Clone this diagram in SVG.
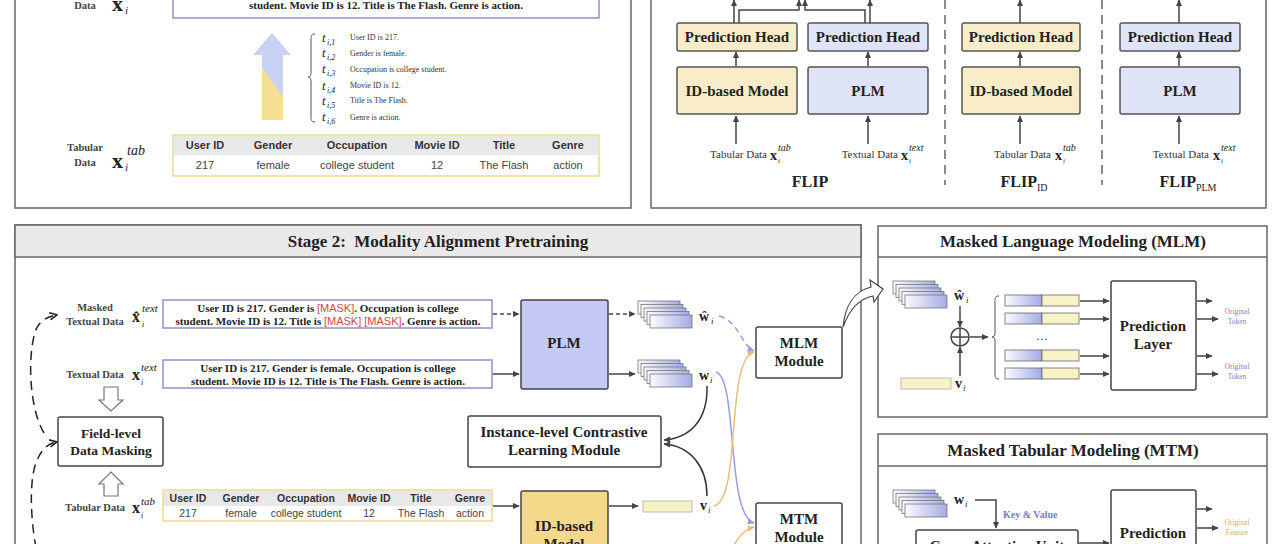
<svg xmlns="http://www.w3.org/2000/svg" width="1280" height="544" viewBox="0 0 1280 544">
<style>
.sb{font-family:"Liberation Serif","Times New Roman",serif;font-weight:bold;fill:#222}
.sr{font-family:"Liberation Serif","Times New Roman",serif;fill:#333}
.lb{font-family:"Liberation Serif","Times New Roman",serif;font-weight:bold;fill:#444;font-size:10.5px}
.ss{font-family:"Liberation Sans",Arial,sans-serif;fill:#444}
.ssb{font-family:"Liberation Sans",Arial,sans-serif;font-weight:bold;fill:#333}
.it{font-family:"Liberation Serif","Times New Roman",serif;font-style:italic;fill:#222}
.panel{fill:#fff;stroke:#666;stroke-width:1.5}
.box{fill:#fff;stroke:#444;stroke-width:1.5}
.tbox{fill:#fff;stroke:#9090c8;stroke-width:1.5}
.yel{fill:#f8edc8;stroke:#555;stroke-width:1.5}
.blu{fill:#dfe3f8;stroke:#555;stroke-width:1.5}
.ln{fill:none;stroke:#444;stroke-width:1.5}
.mid{text-anchor:middle}
.end{text-anchor:end}
.mask{font-family:"Liberation Sans",Arial,sans-serif;font-weight:normal;fill:#d04848}
</style>
<defs>
<linearGradient id="gb" x1="0" x2="1" y1="0" y2="0"><stop offset="0" stop-color="#fbfbff"/><stop offset="1" stop-color="#a3abe4"/></linearGradient>
<marker id="a" viewBox="0 0 10 10" refX="9" refY="5" markerWidth="7" markerHeight="7" markerUnits="userSpaceOnUse" orient="auto"><path d="M0,0.5 L10,5 L0,9.5 z" fill="#444"/></marker>
<marker id="ap" viewBox="0 0 10 10" refX="9" refY="5" markerWidth="7" markerHeight="7" markerUnits="userSpaceOnUse" orient="auto"><path d="M0,0.5 L10,5 L0,9.5 z" fill="#9a9ae0"/></marker>
<marker id="ao" viewBox="0 0 10 10" refX="9" refY="5" markerWidth="7" markerHeight="7" markerUnits="userSpaceOnUse" orient="auto"><path d="M0,0.5 L10,5 L0,9.5 z" fill="#eebb7c"/></marker>
<marker id="ak" viewBox="0 0 10 10" refX="8" refY="5" markerWidth="9" markerHeight="9" markerUnits="userSpaceOnUse" orient="auto"><path d="M1,1 L9,5 L1,9" fill="none" stroke="#222" stroke-width="1.8"/></marker>
<g id="stack">
<rect x="0" y="0" width="42" height="13" fill="url(#gb)" stroke="#777" stroke-width="0.8"/>
<rect x="3" y="3.5" width="42" height="13" fill="url(#gb)" stroke="#777" stroke-width="0.8"/>
<rect x="6" y="7" width="42" height="13" fill="url(#gb)" stroke="#777" stroke-width="0.8"/>
<rect x="9" y="10.5" width="42" height="13" fill="url(#gb)" stroke="#777" stroke-width="0.8"/>
<rect x="12" y="14" width="42" height="13" fill="url(#gb)" stroke="#777" stroke-width="0.8"/>
</g>
</defs>
<rect x="0" y="0" width="1280" height="544" fill="#fff"/>

<!-- Stage 1 panel (top-left) -->
<g id="stage1">
<rect class="panel" x="15" y="-10" width="616" height="218"/>
<text class="lb mid" x="85" y="9">Data</text>
<text class="sb" x="112" y="11" font-size="22">x</text><text class="it" x="125" y="14" font-size="11">i</text>
<rect class="tbox" x="173" y="-10" width="426" height="28"/>
<text class="sb mid" x="386" y="9" font-size="11">student. Movie ID is 12. Title is The Flash. Genre is action.</text>
<polygon points="272,33 291,55 283,55 283,120 262,120 262,55 253,55" fill="#c9d2f3"/>
<polygon points="262,67 283,97 283,120 262,120" fill="#f5df92"/>
<path d="M315,34 C311,34 311,36 311,40 L311,72 C311,76 310,77 308,77 C310,77 311,78 311,82 L311,116 C311,120 311,122 315,122" fill="none" stroke="#555" stroke-width="1"/>
<g class="it" font-size="13">
<text x="322" y="42">t</text><text x="327" y="45" font-size="8">i,1</text>
<text x="322" y="57">t</text><text x="327" y="60" font-size="8">i,2</text>
<text x="322" y="73">t</text><text x="327" y="76" font-size="8">i,3</text>
<text x="322" y="90">t</text><text x="327" y="93" font-size="8">i,4</text>
<text x="322" y="105">t</text><text x="327" y="108" font-size="8">i,5</text>
<text x="322" y="121">t</text><text x="327" y="124" font-size="8">i,6</text>
</g>
<g class="sr" font-size="8">
<text x="350" y="40">User ID is 217.</text>
<text x="350" y="56">Gender is female.</text>
<text x="350" y="72">Occupation is college student.</text>
<text x="350" y="88">Movie ID is 12.</text>
<text x="350" y="103">Title is The Flash.</text>
<text x="350" y="120">Genre is action.</text>
</g>
<text class="lb mid" x="85" y="151">Tabular</text>
<text class="lb mid" x="85" y="166">Data</text>
<text class="sb" x="112" y="168" font-size="22">x</text><text class="it" x="125" y="171" font-size="11">i</text><text class="it" x="127" y="155" font-size="14">tab</text>
<rect x="173" y="135" width="426" height="41" fill="#fff" stroke="#efd98a" stroke-width="1.5"/>
<rect x="174" y="136" width="424" height="19" fill="#e8e8e8"/>
<g class="ssb mid" font-size="11">
<text x="205" y="149">User ID</text><text x="273" y="149">Gender</text><text x="357" y="149">Occupation</text><text x="437" y="149">Movie ID</text><text x="504" y="149">Title</text><text x="568" y="149">Genre</text>
</g>
<g class="ss mid" font-size="11">
<text x="205" y="169">217</text><text x="273" y="169">female</text><text x="357" y="169">college student</text><text x="437" y="169">12</text><text x="504" y="169">The Flash</text><text x="568" y="169">action</text>
</g>
</g>

<!-- Top-right panel -->
<g id="flip-panel">
<rect class="panel" x="651" y="-10" width="615" height="218"/>
<line x1="945" y1="0" x2="945" y2="185" stroke="#666" stroke-width="1.5" stroke-dasharray="9,6"/>
<line x1="1102" y1="0" x2="1102" y2="185" stroke="#666" stroke-width="1.5" stroke-dasharray="9,6"/>
</g>
<g id="flip-head-id"><rect class="yel" x="677" y="23" width="120" height="28" rx="2"/><text class="sb mid" x="737" y="42" font-size="15">Prediction Head</text></g>
<g id="flip-head-plm"><rect class="blu" x="808" y="23" width="120" height="28" rx="2"/><text class="sb mid" x="868" y="42" font-size="15">Prediction Head</text></g>
<g id="flip-id-model"><rect class="yel" x="677" y="67" width="120" height="47" rx="2"/><text class="sb mid" x="737" y="96" font-size="15">ID-based Model</text></g>
<g id="flip-plm"><rect class="blu" x="808" y="67" width="120" height="47" rx="2"/><text class="sb mid" x="868" y="96" font-size="15">PLM</text></g>
<g id="flipid-head"><rect class="yel" x="962" y="23" width="118" height="28" rx="2"/><text class="sb mid" x="1021" y="42" font-size="15">Prediction Head</text></g>
<g id="flipid-model"><rect class="yel" x="962" y="67" width="118" height="47" rx="2"/><text class="sb mid" x="1021" y="96" font-size="15">ID-based Model</text></g>
<g id="flipplm-head"><rect class="blu" x="1120" y="23" width="120" height="28" rx="2"/><text class="sb mid" x="1180" y="42" font-size="15">Prediction Head</text></g>
<g id="flipplm-plm"><rect class="blu" x="1120" y="67" width="120" height="47" rx="2"/><text class="sb mid" x="1180" y="96" font-size="15">PLM</text></g>
<g id="flip-labels">
<text class="sr end" x="767" y="158" font-size="11">Tabular Data</text><text class="sb" x="770" y="160" font-size="14">x</text><text class="it" x="778" y="151" font-size="10">tab</text><text class="it" x="778" y="163" font-size="7">i</text>
<text class="sr end" x="898" y="158" font-size="11">Textual Data</text><text class="sb" x="901" y="160" font-size="14">x</text><text class="it" x="909" y="151" font-size="10">text</text><text class="it" x="909" y="163" font-size="7">i</text>
<text class="sr end" x="1051" y="158" font-size="11">Tabular Data</text><text class="sb" x="1055" y="160" font-size="14">x</text><text class="it" x="1063" y="151" font-size="10">tab</text><text class="it" x="1063" y="163" font-size="7">i</text>
<text class="sr end" x="1209" y="158" font-size="11">Textual Data</text><text class="sb" x="1213" y="160" font-size="14">x</text><text class="it" x="1221" y="151" font-size="10">text</text><text class="it" x="1221" y="163" font-size="7">i</text>
<text class="sb mid" x="810" y="187" font-size="16">FLIP</text>
<text class="sb mid" x="1024" y="187" font-size="16">FLIP<tspan font-size="10" font-weight="normal" dy="4">ID</tspan></text>
<text class="sb mid" x="1188" y="187" font-size="16">FLIP<tspan font-size="10" font-weight="normal" dy="4">PLM</tspan></text>
</g>

<!-- Stage 2 panel -->
<g id="stage2">
<rect class="panel" x="15" y="225" width="846" height="335"/>
<rect x="15" y="225" width="846" height="32" fill="#e9e9e9" stroke="#666" stroke-width="1.5"/>
<text class="sb mid" x="438" y="247" font-size="17" style="white-space:pre">Stage 2:  Modality Alignment Pretraining</text>
</g>
<g id="masked-text">
<text class="lb mid" x="95" y="311">Masked</text>
<text class="lb mid" x="95" y="325">Textual Data</text>
<text class="sb" x="132" y="322" font-size="16">x̂</text><text class="it" x="142" y="312" font-size="11">text</text><text class="it" x="142" y="327" font-size="8">i</text>
<rect class="tbox" x="163" y="300" width="329" height="28"/>
<text class="sb mid" x="328" y="312" font-size="11">User ID is 217. Gender is <tspan class="mask">[MASK]</tspan>. Occupation is college</text>
<text class="sb mid" x="328" y="324.5" font-size="11">student. Movie ID is 12. Title is <tspan class="mask">[MASK] [MASK]</tspan>. Genre is action.</text>
</g>
<g id="textual-text">
<text class="lb mid" x="95" y="378">Textual Data</text>
<text class="sb" x="132" y="380" font-size="16">x</text><text class="it" x="141" y="371" font-size="11">text</text><text class="it" x="141" y="385" font-size="8">i</text>
<rect class="tbox" x="163" y="360" width="329" height="28"/>
<text class="sb mid" x="328" y="372" font-size="11">User ID is 217. Gender is female. Occupation is college</text>
<text class="sb mid" x="328" y="384.5" font-size="11">student. Movie ID is 12. Title is The Flash. Genre is action.</text>
</g>
<g id="field-masking">
<polygon points="104,387 118,387 118,400 123,400 111,411 99,400 104,400" fill="#fff" stroke="#777" stroke-width="1.2"/>
<rect class="box" x="58" y="417" width="105" height="49" rx="2"/>
<text class="sb mid" x="111" y="438" font-size="13.5">Field-level</text>
<text class="sb mid" x="111" y="455" font-size="13.5">Data Masking</text>
<polygon points="111,472 123,484 118,484 118,496 104,496 104,484 99,484" fill="#fff" stroke="#777" stroke-width="1.2"/>
</g>
<g id="tabular-s2">
<text class="lb mid" x="95" y="511">Tabular Data</text>
<text class="sb" x="132" y="513" font-size="16">x</text><text class="it" x="141" y="505" font-size="11">tab</text><text class="it" x="141" y="518" font-size="8">i</text>
<rect x="163" y="490" width="329" height="31" fill="#fff" stroke="#efd98a" stroke-width="1.5"/>
<rect x="164" y="491" width="327" height="15" fill="#e8e8e8"/>
<g class="ssb mid" font-size="10.5">
<text x="188" y="502">User ID</text><text x="241" y="502">Gender</text><text x="306" y="502">Occupation</text><text x="369" y="502">Movie ID</text><text x="421" y="502">Title</text><text x="470" y="502">Genre</text>
</g>
<g class="ss mid" font-size="10.5">
<text x="188" y="517">217</text><text x="241" y="517">female</text><text x="306" y="517">college student</text><text x="369" y="517">12</text><text x="421" y="517">The Flash</text><text x="470" y="517">action</text>
</g>
</g>
<g id="plm-s2"><rect x="521" y="300" width="87" height="89" rx="2" fill="#c4caf4" stroke="#444" stroke-width="1.5"/><text class="sb mid" x="564" y="348" font-size="15">PLM</text></g>
<g id="idmodel-s2"><rect x="521" y="491" width="87" height="70" rx="2" fill="#f5d98a" stroke="#444" stroke-width="1.5"/><text class="sb mid" x="564" y="531" font-size="15">ID-based</text><text class="sb mid" x="564" y="549" font-size="15">Model</text></g>
<g id="emb-what"><use href="#stack" x="638" y="301"/><text class="sb" x="699" y="321" font-size="14">ŵ</text><text class="it" x="711" y="324" font-size="9">i</text></g>
<g id="emb-w"><use href="#stack" x="638" y="360"/><text class="sb" x="699" y="380" font-size="14">w</text><text class="it" x="710" y="383" font-size="9">i</text></g>
<g id="emb-v"><rect x="643" y="501" width="49" height="11" fill="#f8f3c6" stroke="#aaa" stroke-width="0.8"/><text class="sb" x="700" y="510" font-size="14">v</text><text class="it" x="708" y="513" font-size="9">i</text></g>
<g id="contrastive"><rect class="box" x="468" y="416" width="193" height="51" rx="2"/><text class="sb mid" x="564" y="437" font-size="15">Instance-level Contrastive</text><text class="sb mid" x="564" y="455" font-size="15">Learning Module</text></g>
<g id="mlm-module"><rect class="box" x="756" y="327" width="86" height="51" rx="2"/><text class="sb mid" x="799" y="348" font-size="15">MLM</text><text class="sb mid" x="799" y="366" font-size="15">Module</text></g>
<g id="mtm-module"><rect class="box" x="756" y="503" width="86" height="60" rx="2"/><text class="sb mid" x="799" y="524" font-size="15">MTM</text><text class="sb mid" x="799" y="542" font-size="15">Module</text></g>

<!-- MLM panel -->
<g id="mlm-panel">
<rect class="panel" x="878" y="226" width="389" height="191"/>
<line x1="878" y1="257" x2="1267" y2="257" stroke="#666" stroke-width="1.5"/>
<text class="sb mid" x="1073" y="247" font-size="17">Masked Language Modeling (MLM)</text>
<use href="#stack" x="893" y="281"/>
<text class="sb" x="954" y="300" font-size="14">ŵ</text><text class="it" x="966" y="303" font-size="9">i</text>
<circle cx="960" cy="337" r="9" fill="#fff" stroke="#444" stroke-width="1.5"/>
<line x1="951" y1="337" x2="969" y2="337" stroke="#444" stroke-width="1.5"/><line x1="960" y1="328" x2="960" y2="346" stroke="#444" stroke-width="1.5"/>
<rect x="901" y="378" width="50" height="11" fill="#f8f3c6" stroke="#aaa" stroke-width="0.8"/>
<text class="sb" x="955" y="388" font-size="14">v</text><text class="it" x="963" y="391" font-size="9">i</text>
<path d="M999,296 C995,296 995,298 995,302 L995,333 C995,336 994,337 992,337 C994,337 995,338 995,341 L995,373 C995,377 995,379 999,379" fill="none" stroke="#555" stroke-width="1"/>
<g stroke="#666" stroke-width="0.8">
<rect x="1005" y="295" width="37" height="11" fill="url(#gb)"/><rect x="1042" y="295" width="37" height="11" fill="#f8f3c6"/>
<rect x="1005" y="313" width="37" height="11" fill="url(#gb)"/><rect x="1042" y="313" width="37" height="11" fill="#f8f3c6"/>
<rect x="1005" y="350" width="37" height="11" fill="url(#gb)"/><rect x="1042" y="350" width="37" height="11" fill="#f8f3c6"/>
<rect x="1005" y="368" width="37" height="11" fill="url(#gb)"/><rect x="1042" y="368" width="37" height="11" fill="#f8f3c6"/>
</g>
<text class="sr mid" x="1042" y="340" font-size="12">…</text>
<rect class="box" x="1111" y="281" width="85" height="109" rx="2"/>
<text class="sb mid" x="1153" y="331" font-size="15">Prediction</text>
<text class="sb mid" x="1153" y="349" font-size="15">Layer</text>
<g class="sr mid" font-size="7.5" style="fill:#8080c8">
<text x="1237" y="314">Original</text><text x="1237" y="324">Token</text>
<text x="1237" y="369">Original</text><text x="1237" y="379">Token</text>
</g>
</g>

<!-- MTM panel -->
<g id="mtm-panel">
<rect class="panel" x="878" y="434" width="389" height="130"/>
<line x1="878" y1="466" x2="1267" y2="466" stroke="#666" stroke-width="1.5"/>
<text class="sb mid" x="1073" y="456" font-size="17">Masked Tabular Modeling (MTM)</text>
<use href="#stack" x="893" y="490"/>
<text class="sb" x="954" y="504" font-size="14">w</text><text class="it" x="965" y="507" font-size="9">i</text>
<text class="sb" x="1003" y="518" font-size="10" style="fill:#7a7acc">Key &amp; Value</text>
<rect class="box" x="916" y="530" width="162" height="40" rx="2"/>
<text class="sb mid" x="997" y="551" font-size="15">Cross-Attention Unit</text>
<rect class="box" x="1111" y="490" width="85" height="80" rx="2"/>
<text class="sb mid" x="1153" y="538" font-size="15">Prediction</text>
<g class="sr mid" font-size="7.5" style="fill:#e0a868">
<text x="1237" y="525">Original</text><text x="1237" y="535">Feature</text>
</g>
</g>

<!-- Connectors -->
<g id="connectors" fill="none" stroke-width="1.5">
<line class="ln" x1="736" y1="144" x2="736" y2="116" marker-end="url(#a)"/>
<line class="ln" x1="868" y1="144" x2="868" y2="116" marker-end="url(#a)"/>
<line class="ln" x1="736" y1="66" x2="736" y2="52" marker-end="url(#a)"/>
<line class="ln" x1="868" y1="66" x2="868" y2="52" marker-end="url(#a)"/>
<line class="ln" x1="734" y1="23" x2="734" y2="0" marker-end="url(#a)"/>
<line class="ln" x1="870" y1="23" x2="870" y2="0" marker-end="url(#a)"/>
<polyline class="ln" points="739,23 739,10 799,10 799,0" marker-end="url(#a)"/>
<polyline class="ln" points="865,23 865,10 805,10 805,0" marker-end="url(#a)"/>
<line class="ln" x1="1020" y1="144" x2="1020" y2="116" marker-end="url(#a)"/>
<line class="ln" x1="1020" y1="66" x2="1020" y2="52" marker-end="url(#a)"/>
<line class="ln" x1="1020" y1="23" x2="1020" y2="0" marker-end="url(#a)"/>
<line class="ln" x1="1179" y1="144" x2="1179" y2="116" marker-end="url(#a)"/>
<line class="ln" x1="1179" y1="66" x2="1179" y2="52" marker-end="url(#a)"/>
<line class="ln" x1="1179" y1="23" x2="1179" y2="0" marker-end="url(#a)"/>
<line class="ln" x1="493" y1="314" x2="519" y2="314" stroke-dasharray="4,3" marker-end="url(#a)"/>
<line class="ln" x1="493" y1="374" x2="519" y2="374" marker-end="url(#a)"/>
<line class="ln" x1="609" y1="314" x2="635" y2="314" stroke-dasharray="4,3" marker-end="url(#a)"/>
<line class="ln" x1="609" y1="374" x2="635" y2="374" marker-end="url(#a)"/>
<line class="ln" x1="493" y1="506" x2="519" y2="506" marker-end="url(#a)"/>
<line class="ln" x1="609" y1="506" x2="638" y2="506" marker-end="url(#a)"/>
<path d="M44,433 C30,410 27,360 35,332 C39,321 46,317 56,315" stroke="#222" stroke-dasharray="9,6" marker-end="url(#ak)"/>
<path d="M36,548 C30,515 29,475 38,458 C42,450 47,444 56,442" stroke="#222" stroke-dasharray="9,6" marker-end="url(#ak)"/>
<path d="M707,386 C708,420 690,438 664,440" stroke="#333" marker-end="url(#a)"/>
<path d="M707,496 C707,466 690,446 664,444" stroke="#333" marker-end="url(#a)"/>
<path d="M719,316 C738,320 742,346 754,351" stroke="#9a9ae0" stroke-dasharray="6,4" marker-end="url(#ap)"/>
<path d="M716,372 C738,378 726,515 754,523" stroke="#9a9ae0" marker-end="url(#ap)"/>
<path d="M714,506 C742,498 725,360 754,352" stroke="#eebb7c" marker-end="url(#ao)"/>
<path d="M733,548 C738,536 744,530 754,527" stroke="#eebb7c" marker-end="url(#ao)"/>
<path d="M843,327 C845,305 855,291 871,287 L870,280 L883,289 L874,302 L873,296 C861,298 850,308 843,327 Z" fill="#fff" stroke="#444" stroke-width="1.2"/>
<line class="ln" x1="960" y1="306" x2="960" y2="327" marker-end="url(#a)"/>
<line class="ln" x1="960" y1="376" x2="960" y2="347" marker-end="url(#a)"/>
<line class="ln" x1="970" y1="337" x2="988" y2="337" marker-end="url(#a)"/>
<line class="ln" x1="1080" y1="301" x2="1109" y2="301" marker-end="url(#a)"/>
<line class="ln" x1="1080" y1="319" x2="1109" y2="319" marker-end="url(#a)"/>
<line class="ln" x1="1080" y1="356" x2="1109" y2="356" marker-end="url(#a)"/>
<line class="ln" x1="1080" y1="374" x2="1109" y2="374" marker-end="url(#a)"/>
<line class="ln" x1="1197" y1="301" x2="1212" y2="301" marker-end="url(#a)"/>
<line class="ln" x1="1197" y1="319" x2="1218" y2="319" marker-end="url(#a)"/>
<line class="ln" x1="1197" y1="356" x2="1212" y2="356" marker-end="url(#a)"/>
<line class="ln" x1="1197" y1="374" x2="1218" y2="374" marker-end="url(#a)"/>
<polyline class="ln" points="975,500 996,500 996,528" marker-end="url(#a)"/>
<line class="ln" x1="1079" y1="543" x2="1109" y2="543" marker-end="url(#a)"/>
<line class="ln" x1="1197" y1="509" x2="1212" y2="509" marker-end="url(#a)"/>
<line class="ln" x1="1197" y1="528" x2="1218" y2="528" marker-end="url(#a)"/>
</g>
</svg>
